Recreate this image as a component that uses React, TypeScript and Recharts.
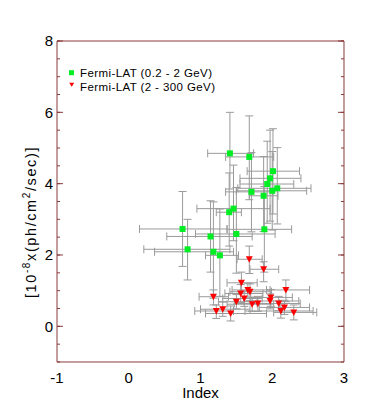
import React from 'react';
import { ScatterChart, Scatter, XAxis, YAxis, ErrorBar, Legend } from 'recharts';

// ---- data ----
const greenIndex = [1.41, 1.68, 2.01, 1.97, 1.93, 2.07, 2.0, 1.71, 1.88, 1.46, 1.4, 0.75, 1.89, 1.5, 1.14, 0.82, 1.18, 1.27];
const greenFlux = [4.85, 4.75, 4.35, 4.15, 3.99, 3.87, 3.8, 3.77, 3.66, 3.3, 3.2, 2.73, 2.72, 2.59, 2.52, 2.16, 2.09, 1.99];
const greenIndexErr = [
  [0.31, 0.33], [0.33, 0.34], [0.36, 0.37], [0.42, 0.43], [0.38, 0.37], [0.55, 0.47],
  [0.5, 0.48], [0.36, 0.3], [0.2, 0.2], [0.51, 0.51], [0.18, 0.17], [0.6, 0.62],
  [0.52, 0.38], [0.57, 0.54], [0.61, 0.58], [0.61, 0.59], [0.82, 0.28], [0.2, 0.26],
];
const greenFluxErr = [
  [1.0, 1.15], [1.2, 1.15], [1.2, 1.19], [1.2, 1.35], [1.1, 1.2], [1.0, 1.14],
  [1.1, 1.1], [1.12, 1.1], [1.0, 1.1], [0.9, 1.22], [0.95, 1.1], [1.05, 1.05],
  [1.2, 1.2], [1.1, 1.3], [1.0, 1.0], [0.86, 0.84], [1.3, 1.4], [1.15, 1.3],
];

const redIndex = [1.68, 1.88, 1.57, 1.66, 1.69, 2.19, 1.56, 1.18, 1.61, 1.98, 1.97, 1.5, 1.72, 1.8, 2.09, 2.17, 2.12, 2.3, 1.22, 1.31, 1.42];
const redFlux = [1.88, 1.6, 1.22, 1.02, 0.97, 1.02, 0.92, 0.83, 0.78, 0.81, 0.71, 0.69, 0.62, 0.64, 0.64, 0.53, 0.43, 0.39, 0.43, 0.48, 0.36];
const redIndexErr = [
  [0.17, 0.18], [0.19, 0.21], [0.2, 0.22], [0.22, 0.31], [0.28, 0.3], [0.27, 0.33],
  [0.22, 0.31], [0.2, 0.21], [0.3, 0.25], [0.28, 0.3], [0.37, 0.4], [0.25, 0.29],
  [0.35, 0.3], [0.33, 0.3], [0.3, 0.3], [0.35, 0.35], [0.5, 0.45], [0.28, 0.32],
  [0.3, 0.24], [0.31, 0.38], [0.35, 0.5],
];
const redFluxErr = [
  [0.4, 0.37], [0.35, 0.21], [0.29, 0.3], [0.23, 0.19], [0.25, 0.22], [0.33, 0.28],
  [0.25, 0.25], [0.23, 0.19], [0.22, 0.22], [0.25, 0.22], [0.22, 0.2], [0.2, 0.2],
  [0.2, 0.2], [0.22, 0.2], [0.2, 0.2], [0.2, 0.2], [0.2, 0.2], [0.21, 0.21],
  [0.21, 0.17], [0.2, 0.2], [0.21, 0.21],
];

const seriesNames = ['Fermi-LAT (0.2 - 2 GeV)', 'Fermi-LAT (2 - 300 GeV)'];
const xMajorTicks = [-1, 0, 1, 2, 3];
const yLabelTicks = [0, 2, 4, 6, 8];
const xMinorTicks = Array.from({ length: 41 }, (_, i) => Math.round((-1 + i * 0.1) * 10) / 10);
const yMinorTicks = Array.from({ length: 19 }, (_, i) => -1 + i * 0.5);

const greenData = greenIndex.map((x, i) => ({ x, y: greenFlux[i], ex: greenIndexErr[i], ey: greenFluxErr[i] }));
const redData = redIndex.map((x, i) => ({ x, y: redFlux[i], ex: redIndexErr[i], ey: redFluxErr[i] }));

const AXIS = '#8a3b3b';
const GREEN = '#00ee22';
const RED = '#ff0000';
const ERR = '#9a9a9a';
const FONT = '"Liberation Sans", Arial, Helvetica, sans-serif';
const THIN = 0.01;

const Square = (p: any) => <rect x={p.cx - 3} y={p.cy - 3} width={6} height={6} fill={GREEN} />;
const TriDown = (p: any) => (
  <polygon points={`${p.cx - 3.5},${p.cy - 3} ${p.cx + 3.5},${p.cy - 3} ${p.cx},${p.cy + 3.5}`} fill={RED} />
);
const NoTickLabel = () => <g />;

const renderYLabel = () => (
  <text
    transform="rotate(-90 36 222)"
    x={36}
    y={222}
    textAnchor="middle"
    fontSize={14.5}
    letterSpacing={1.6}
    fill="#000"
    fontFamily={FONT}
  >
    [10<tspan dy={-6} fontSize={10}>-8</tspan>
    <tspan dy={6}>x(ph/cm</tspan>
    <tspan dy={-6} fontSize={10}>2</tspan>
    <tspan dy={6}>/sec)]</tspan>
  </text>
);

const renderXLabel = () => (
  <text x={200.5} y={398} textAnchor="middle" fontSize={15} fill="#000" fontFamily={FONT}>
    Index
  </text>
);

const renderLegend = () => (
  <svg width={382} height={405} style={{ position: 'absolute', left: 0, top: 0 }}>
    <rect x={69} y={70.2} width={5} height={5} fill={GREEN} />
    <text x={80} y={77.4} fontSize={11.5} textLength={132} lengthAdjust="spacing" fill="#000" fontFamily={FONT}>
      {seriesNames[0]}
    </text>
    <polygon points="69.2,82.8 74.2,82.8 71.7,86.8" fill={RED} />
    <text x={80} y={90.9} fontSize={11.5} textLength={135} lengthAdjust="spacing" fill="#000" fontFamily={FONT}>
      {seriesNames[1]}
    </text>
  </svg>
);

const tickAxisCommon = {
  type: 'number' as const,
  allowDataOverflow: true,
  tick: NoTickLabel,
  axisLine: false,
  interval: 0 as const,
  mirror: true,
  tickLine: { stroke: AXIS, strokeWidth: 1 },
};

export default function App() {
  return (
    <div style={{ position: 'absolute', left: 0, top: 0, width: 382, height: 405, background: '#fff' }}>
      <ScatterChart
        width={382}
        height={405}
        margin={{ top: 41, right: 38, bottom: 43, left: 57 }}
        style={{ fontFamily: FONT }}
      >
        {/* main axes */}
        <XAxis
          xAxisId="b"
          type="number"
          dataKey="x"
          domain={[-1, 3]}
          ticks={xMajorTicks}
          allowDataOverflow
          height={THIN}
          interval={0}
          tickLine={false}
          tickSize={0}
          tickMargin={10}
          axisLine={{ stroke: AXIS, strokeWidth: 1 }}
          tick={{ fontSize: 15, fill: '#000' }}
          label={{ content: renderXLabel }}
        />
        <YAxis
          yAxisId="l"
          type="number"
          dataKey="y"
          domain={[-1, 8]}
          ticks={yLabelTicks}
          allowDataOverflow
          width={THIN}
          interval={0}
          tickLine={false}
          tickSize={0}
          tickMargin={4}
          axisLine={{ stroke: AXIS, strokeWidth: 1 }}
          tick={{ fontSize: 15, fill: '#000' }}
          label={{ content: renderYLabel }}
        />
        <XAxis xAxisId="t" orientation="top" type="number" domain={[-1, 3]} ticks={xMajorTicks} allowDataOverflow height={THIN} tick={NoTickLabel} tickLine={false} axisLine={{ stroke: AXIS, strokeWidth: 1 }} />
        <YAxis yAxisId="r" orientation="right" type="number" domain={[-1, 8]} ticks={yLabelTicks} allowDataOverflow width={THIN} tick={NoTickLabel} tickLine={false} axisLine={{ stroke: AXIS, strokeWidth: 1 }} />

        {/* inward tick marks */}
        <XAxis xAxisId="bMaj" {...tickAxisCommon} domain={[-1, 3]} ticks={xMajorTicks} height={THIN} tickSize={5} />
        <XAxis xAxisId="bMin" {...tickAxisCommon} domain={[-1, 3]} ticks={xMinorTicks} height={THIN} tickSize={3} />
        <XAxis xAxisId="tMaj" orientation="top" {...tickAxisCommon} domain={[-1, 3]} ticks={xMajorTicks} height={THIN} tickSize={5} />
        <XAxis xAxisId="tMin" orientation="top" {...tickAxisCommon} domain={[-1, 3]} ticks={xMinorTicks} height={THIN} tickSize={3} />
        <YAxis yAxisId="lMaj" {...tickAxisCommon} domain={[-1, 8]} ticks={yLabelTicks} width={THIN} tickSize={6} />
        <YAxis yAxisId="lMin" {...tickAxisCommon} domain={[-1, 8]} ticks={yMinorTicks} width={THIN} tickSize={3} />
        <YAxis yAxisId="rMaj" orientation="right" {...tickAxisCommon} domain={[-1, 8]} ticks={yLabelTicks} width={THIN} tickSize={6} />
        <YAxis yAxisId="rMin" orientation="right" {...tickAxisCommon} domain={[-1, 8]} ticks={yMinorTicks} width={THIN} tickSize={3} />

        <Legend layout="vertical" align="center" verticalAlign="middle" content={renderLegend}
          wrapperStyle={{ left: 0, top: 0, width: 382, height: 405, pointerEvents: 'none' }} />

        <Scatter name={seriesNames[0]} data={greenData} xAxisId="b" yAxisId="l" shape={Square} isAnimationActive={false}>
          <ErrorBar dataKey="ex" direction="x" width={4} stroke={ERR} strokeWidth={1} isAnimationActive={false} />
          <ErrorBar dataKey="ey" direction="y" width={4} stroke={ERR} strokeWidth={1} isAnimationActive={false} />
        </Scatter>
        <Scatter name={seriesNames[1]} data={redData} xAxisId="b" yAxisId="l" shape={TriDown} isAnimationActive={false}>
          <ErrorBar dataKey="ex" direction="x" width={4} stroke={ERR} strokeWidth={1} isAnimationActive={false} />
          <ErrorBar dataKey="ey" direction="y" width={4} stroke={ERR} strokeWidth={1} isAnimationActive={false} />
        </Scatter>
      </ScatterChart>
    </div>
  );
}
